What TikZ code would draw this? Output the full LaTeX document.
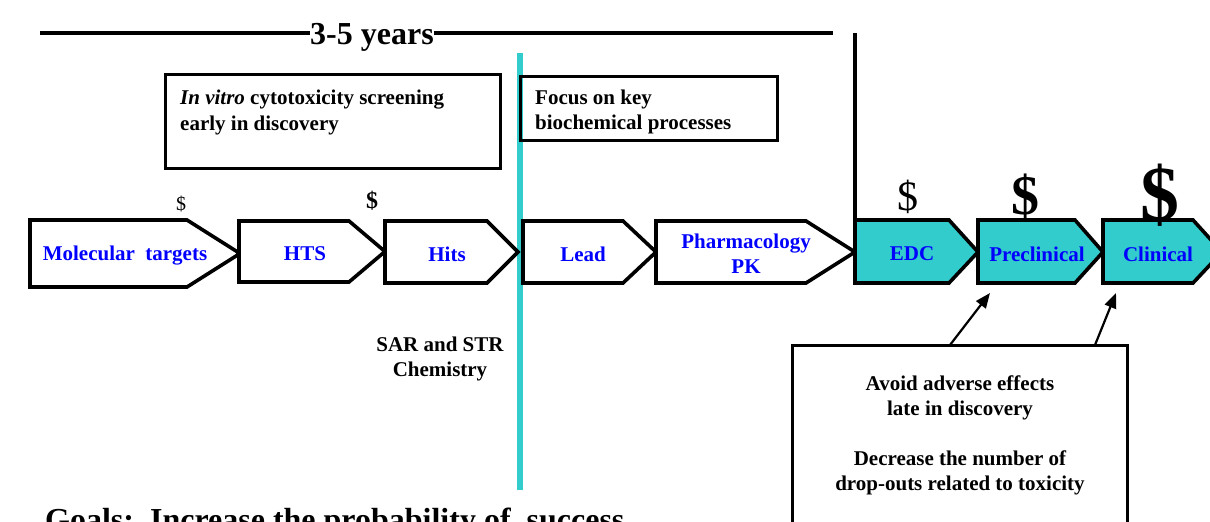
\documentclass[tikz,border=0pt]{standalone}
\usepackage{fontspec}
\setmainfont{Liberation Serif}
\usetikzlibrary{arrows.meta}

\definecolor{stagecyan}{RGB}{51,204,204}
\definecolor{stageblue}{RGB}{0,0,255}

\tikzset{
  stagebox/.style={draw=black, line width=3.6pt, line join=miter},
  stagetext/.style={text=stageblue, font=\fontsize{21}{25}\selectfont\bfseries, align=center, inner sep=0pt},
  notebox/.style={draw=black, line width=3pt},
  notetext/.style={font=\fontsize{21}{25}\selectfont\bfseries, inner sep=0pt},
  costmark/.style={inner sep=0pt},
  pointer/.style={line width=2.2pt, -{Triangle[length=15pt, width=12pt]}},
}

\begin{document}
\begin{tikzpicture}[x=1pt, y=-1pt]
  \useasboundingbox (0,0) rectangle (1210,522);

  % time span on top
  \node[font=\fontsize{32}{34}\selectfont\bfseries, inner sep=0pt] (span) at (372,37) {3-5 years};
  \draw[line width=4.5pt] (40,33) -- (span.west |- 40,33);
  \draw[line width=4.5pt] (span.east |- 40,33) -- (833,33);
  \draw[line width=4.5pt] (855,33) -- (855,283);

  % cyan divider
  \draw[stagecyan, line width=6.5pt] (520,53) -- (520,490);

  % notes above the stages
  \draw[notebox] (165,74) rectangle (500,168);
  \node[notetext, anchor=west] (vitro1) at (180,100) {\textit{In vitro} cytotoxicity screening};
  \node[notetext, anchor=west] (vitro2) at (180,125) {early in discovery};
  \draw[notebox] (520,76) rectangle (777,140);
  \node[notetext, anchor=west] (focus1) at (535,99) {Focus on key};
  \node[notetext, anchor=west] (focus2) at (535,124) {biochemical processes};
  \node[notetext, align=center] (sar) at (440,359) {SAR and STR\\Chemistry};

  % stages: left / shoulder / tip / top / bottom
  \foreach \l/\s/\t/\tp/\bt in {30/187/240/220/287, 239/349/385/221/282, 385/487/518/221/283,
                                523/623/656/221/283, 656/806/855/221/283}
    \draw[stagebox, fill=white] (\l,\tp) -- (\s,\tp) -- (\t,{(\tp+\bt)/2}) -- (\s,\bt) -- (\l,\bt) -- cycle;
  \foreach \l/\s/\t in {855/949/978, 978/1075/1103, 1103/1193/1222}
    \draw[stagebox, fill=stagecyan] (\l,220) -- (\s,220) -- (\t,252) -- (\s,283) -- (\l,283) -- cycle;
  \draw[line width=4.5pt] (855,200) -- (855,283);

  \node[stagetext] (targets) at (125,256) {Molecular\ \ targets};
  \node[stagetext] (hts) at (305,254) {HTS};
  \node[stagetext] (hits) at (447,254) {Hits};
  \node[stagetext] (lead) at (583,254) {Lead};
  \node[stagetext] (pharma) at (746,254) {Pharmacology\\PK};
  \node[stagetext] (edc) at (912,254) {EDC};
  \node[stagetext] (preclin) at (1037,254) {Preclinical};
  \node[stagetext] (clin) at (1158,254) {Clinical};

  % growing cost
  \node[costmark, font=\fontsize{20}{20}\selectfont] (cost1) at (181,204) {\$};
  \node[costmark, font=\fontsize{24}{24}\selectfont\bfseries] (cost2) at (372,201) {\$};
  \node[costmark, font=\fontsize{42}{42}\selectfont] (cost3) at (908,197) {\$};
  \node[costmark, font=\fontsize{56}{56}\selectfont\bfseries] (cost4) at (1025,196) {\$};
  \node[costmark, font=\fontsize{78}{78}\selectfont\bfseries] (cost5) at (1160,195) {\$};

  % toxicity note
  \draw[notebox] (792,345) rectangle (1127,540);
  \node[notetext, align=center] (avoid) at (960,398) {Avoid adverse effects\\late in discovery};
  \node[notetext, align=center] (drop) at (960,473) {Decrease the number of\\drop-outs related to toxicity};
  \coordinate (tip1) at (990,293);
  \coordinate (tip2) at (1116,293);
  \draw[pointer] (950,345) -- (tip1);
  \draw[pointer] (1095,345) -- (tip2);

  % goals (cut by the page edge)
  \node[font=\fontsize{32}{34}\selectfont\bfseries, anchor=base west, inner sep=0pt] (goals) at (45,530)
    {Goals:\ \ Increase the probability of\ \ success};
\end{tikzpicture}
\end{document}
